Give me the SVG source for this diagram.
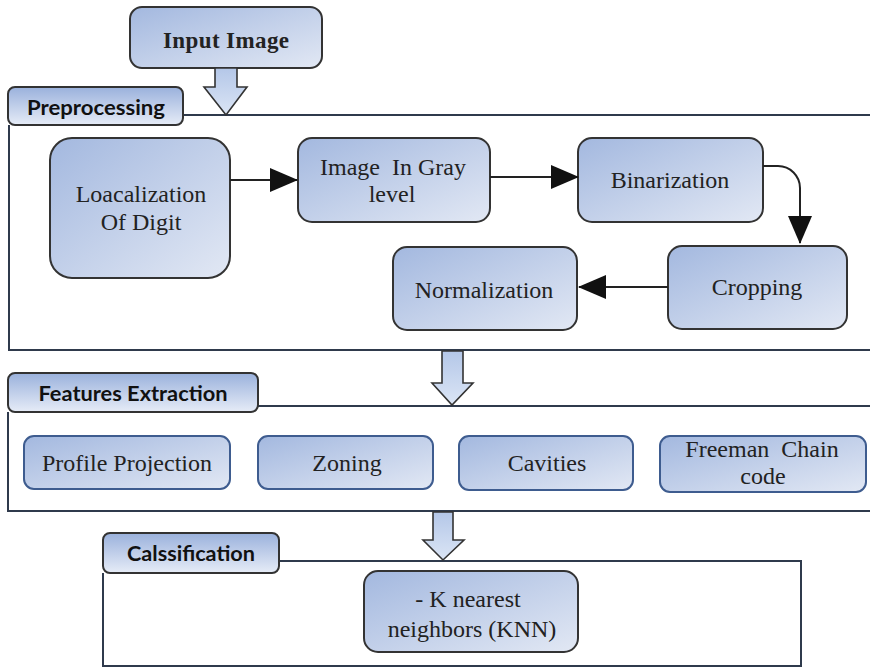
<svg xmlns="http://www.w3.org/2000/svg" width="870" height="667" viewBox="0 0 870 667">
  <defs>
    <linearGradient id="boxFill" x1="0" y1="0" x2="1" y2="1">
      <stop offset="0" stop-color="#a3b8df"/>
      <stop offset="1" stop-color="#e2e8f4"/>
    </linearGradient>
    <linearGradient id="tabFill" x1="0" y1="0" x2="0" y2="1">
      <stop offset="0" stop-color="#9ab1dc"/>
      <stop offset="1" stop-color="#e6ecf7"/>
    </linearGradient>
    <linearGradient id="blockFill" x1="0" y1="0" x2="0" y2="1">
      <stop offset="0" stop-color="#b4c7e8"/>
      <stop offset="1" stop-color="#dbe5f5"/>
    </linearGradient>
    <marker id="tri" markerUnits="userSpaceOnUse" markerWidth="28" markerHeight="24" viewBox="0 0 28 24" refX="27" refY="12" orient="auto">
      <path d="M0,0 L28,12 L0,24 Z" fill="#111"/>
    </marker>
    <style>
      .box { fill: url(#boxFill); stroke: #333; stroke-width: 2; }
      .fbox { fill: url(#boxFill); stroke: #3e5c8f; stroke-width: 2; }
      .tab { fill: url(#tabFill); stroke: #333; stroke-width: 2; }
      .frame { fill: none; stroke: #2f3a4c; stroke-width: 2; }
      .block { fill: url(#blockFill); stroke: #333; stroke-width: 1.6; stroke-linejoin: miter; }
      .edge { fill: none; stroke: #222; stroke-width: 2; marker-end: url(#tri); }
      .t { font-family: "Liberation Serif", "Times New Roman", serif; font-size: 24px; fill: #222; text-anchor: middle; }
      .tb { font-family: "Liberation Serif", "Times New Roman", serif; font-size: 23px; font-weight: bold; fill: #222; text-anchor: middle; }
      .tab-t { font-family: Lato, "Liberation Sans", sans-serif; font-size: 20px; font-weight: bold; fill: #111; text-anchor: middle; }
    </style>
  </defs>

  <rect width="870" height="667" fill="#ffffff"/>

  <!-- section frames -->
  <g id="preprocessing-section">
    <path class="frame" d="M183,115 H871 M9,125 V350 H871"/>
    <rect class="tab" x="8" y="87" width="175" height="38" rx="7"/>
    <text class="tab-t" x="96" y="115" textLength="138" lengthAdjust="spacingAndGlyphs">Preprocessing</text>
  </g>
  <g id="features-section">
    <path class="frame" d="M258,406 H871 M8,412 V511 H871"/>
    <rect class="tab" x="8" y="373" width="250" height="39" rx="7"/>
    <text class="tab-t" x="133" y="401" textLength="189" lengthAdjust="spacingAndGlyphs">Features Extraction</text>
  </g>
  <g id="classification-section">
    <path class="frame" d="M279,561 H801 V666 H103 V573"/>
    <rect class="tab" x="103" y="533" width="176" height="40" rx="7"/>
    <text class="tab-t" x="191" y="561" textLength="128" lengthAdjust="spacingAndGlyphs">Calssification</text>
  </g>

  <!-- nodes -->
  <g id="input-image">
    <rect class="box" x="130" y="7" width="192" height="61" rx="12"/>
    <text class="tb" x="226" y="48" textLength="126" lengthAdjust="spacing">Input Image</text>
  </g>
  <g id="localization">
    <rect class="box" x="50" y="138" width="180" height="140" rx="22"/>
    <text class="t" x="141" y="202">Loacalization</text>
    <text class="t" x="141" y="230">Of Digit</text>
  </g>
  <g id="gray-level">
    <rect class="box" x="298" y="138" width="192" height="84" rx="14"/>
    <text class="t" x="393" y="175" xml:space="preserve">Image  In Gray</text>
    <text class="t" x="392" y="202">level</text>
  </g>
  <g id="binarization">
    <rect class="box" x="578" y="138" width="185" height="84" rx="14"/>
    <text class="t" x="670" y="188">Binarization</text>
  </g>
  <g id="cropping">
    <rect class="box" x="668" y="246" width="179" height="83" rx="14"/>
    <text class="t" x="757" y="295">Cropping</text>
  </g>
  <g id="normalization">
    <rect class="box" x="393" y="247" width="184" height="83" rx="14"/>
    <text class="t" x="484" y="298">Normalization</text>
  </g>
  <g id="profile-projection">
    <rect class="fbox" x="24" y="436" width="206" height="53" rx="10"/>
    <text class="t" x="127" y="471">Profile Projection</text>
  </g>
  <g id="zoning">
    <rect class="fbox" x="258" y="436" width="175" height="53" rx="10"/>
    <text class="t" x="347" y="471">Zoning</text>
  </g>
  <g id="cavities">
    <rect class="fbox" x="459" y="436" width="174" height="54" rx="10"/>
    <text class="t" x="547" y="471">Cavities</text>
  </g>
  <g id="freeman-chain">
    <rect class="fbox" x="660" y="436" width="206" height="56" rx="10"/>
    <text class="t" x="762" y="457" xml:space="preserve">Freeman  Chain</text>
    <text class="t" x="763" y="484">code</text>
  </g>
  <g id="knn">
    <rect class="box" x="364" y="571" width="214" height="81" rx="14"/>
    <text class="t" x="468" y="607">- K nearest</text>
    <text class="t" x="472" y="637">neighbors (KNN)</text>
  </g>

  <!-- connectors -->
  <g id="connectors">
    <path class="edge" d="M230,180 H297"/>
    <path class="edge" d="M490,177 H578"/>
    <path class="edge" d="M763,166 H778 A22,22 0 0 1 800,188 V243"/>
    <path class="edge" d="M668,287 H579"/>
    <path class="block" d="M215,68 V87 H204 L226,115 L247,87 H237 V68 Z"/>
    <path class="block" d="M442,351 V383 H432 L452,405 L473,383 H463 V351 Z"/>
    <path class="block" d="M433,512 V540 H423 L443,560 L464,540 H453 V512 Z"/>
  </g>
</svg>
